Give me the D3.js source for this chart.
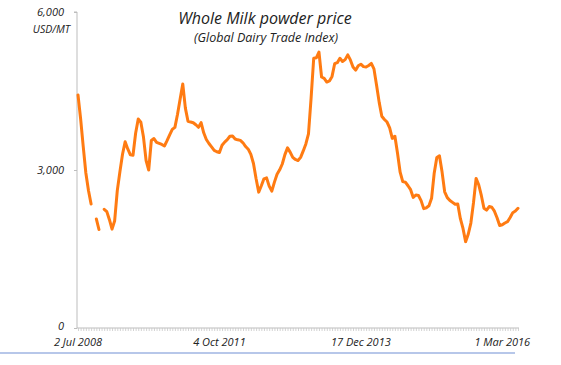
<!DOCTYPE html>
<html>
<head>
<meta charset="utf-8">
<script src="https://cdn.jsdelivr.net/npm/d3@7"></script>
<style>
  html, body { margin: 0; padding: 0; background: #fff; }
  svg { display: block; }
  text { font-family: "Open Sans", "DejaVu Sans", sans-serif; font-style: italic; fill: #222; }
</style>
</head>
<body>
<svg id="chart" width="561" height="365"></svg>
<script>
// ---- Data (USD/MT, Global Dairy Trade whole milk powder, one value per trading event) ----
const values = [
  4425, 3973, 3443, 2943, 2610, 2355, null, 2070, 1870, null,
  2254, 2210, 2056, 1877, 2037, 2609, 2968, 3300, 3537, 3400,
  3289, 3280, 3697, 3968, 3908, 3625, 3180, 3000, 3560, 3597,
  3525, 3505, 3485, 3456, 3557, 3667, 3770, 3810, 4060, 4350,
  4633, 4175, 3925, 3912, 3898, 3859, 3811, 3899, 3707, 3579,
  3503, 3439, 3372, 3347, 3332, 3470, 3530, 3575, 3641, 3647,
  3589, 3573, 3562, 3517, 3445, 3395, 3296, 3124, 2834, 2580,
  2700, 2833, 2850, 2694, 2600, 2770, 2918, 3003, 3114, 3292,
  3420, 3340, 3240, 3200, 3180, 3240, 3362, 3495, 3685, 4364,
  5122, 5130, 5240, 4766, 4741, 4670, 4691, 4777, 5018, 5038,
  5122, 5061, 5096, 5186, 5090, 4955, 4896, 4980, 5009, 4963,
  4955, 4984, 5023, 4920, 4610, 4284, 4020, 3959, 3911, 3800,
  3600, 3640, 3319, 2958, 2779, 2769, 2701, 2626, 2479, 2525,
  2515, 2419, 2266, 2282, 2320, 2463, 2938, 3239, 3270, 2965,
  2586, 2475, 2422, 2385, 2349, 2354, 2076, 1890, 1640, 1780,
  1993, 2375, 2840, 2720, 2517, 2274, 2238, 2306, 2292, 2218,
  2093, 1946, 1960, 1994, 2018, 2098, 2190, 2220, 2273
];
const categories = d3.range(values.length);           // trading events, in order
const xTickIndex  = [0, 54, 108, 162];
const xTickLabels = ["2 Jul 2008", "4 Oct 2011", "17 Dec 2013", "1 Mar 2016"];
const yTicks      = [0, 3000, 6000];
const yUnit       = "USD/MT";
const title       = "Whole Milk powder price";
const subtitle    = "(Global Dairy Trade Index)";

// ---- Layout ----
const svg = d3.select("#chart");
const mLeft = 77, mRight = 519, mTop = 12, mBottom = 328;

const x = d3.scalePoint().domain(categories).range([mLeft + 1, mRight - 1]);
const y = d3.scaleLinear().domain([0, 6000]).range([mBottom, mTop]);

// bottom separator line
svg.append("line")
  .attr("x1", 0).attr("x2", 515).attr("y1", 353).attr("y2", 353)
  .attr("stroke", "#9fb5e2").attr("stroke-width", 1.5);

// Y axis
const yAxis = svg.append("g").attr("transform", `translate(${mLeft},0)`)
  .call(d3.axisLeft(y).tickValues(yTicks).tickSize(3).tickPadding(10)
        .tickFormat(d3.format(",")));
yAxis.select(".domain").attr("stroke", "#bdbdbd").attr("d", `M-3,${y(6000)}H0V${mBottom}`);
yAxis.selectAll(".tick line").attr("stroke", "#bdbdbd");
yAxis.selectAll(".tick text").style("font-size", "11px").attr("fill", "#222")
  .attr("dy", d => d === 0 ? "0.1em" : "0.32em");

svg.append("text")
  .attr("x", 70).attr("y", 33).attr("text-anchor", "end")
  .style("font-size", "10.5px").text(yUnit);

// X axis with dense ticks (one per event)
const xAxis = svg.append("g").attr("transform", `translate(0,${mBottom})`)
  .call(d3.axisBottom(x).tickValues(categories).tickSize(3).tickFormat(""));
xAxis.select(".domain").attr("stroke", "#bdbdbd").attr("d", `M${mLeft},0H${mRight}`);
xAxis.selectAll(".tick line").attr("stroke", "#c8c8c8").attr("stroke-width", 0.8);

svg.append("g").selectAll("text")
  .data(xTickIndex)
  .join("text")
  .attr("x", d => x(categories[d]))
  .attr("y", 346)
  .attr("text-anchor", "middle")
  .style("font-size", "11px")
  .text((d, i) => xTickLabels[i]);

// Line
const line = d3.line()
  .defined(d => d != null)
  .x((d, i) => x(categories[i]))
  .y(d => y(d));

svg.append("path")
  .datum(values)
  .attr("fill", "none")
  .attr("stroke", "#ff7b12")
  .attr("stroke-width", 3)
  .attr("stroke-linejoin", "round")
  .attr("stroke-linecap", "round")
  .attr("d", line);

// Titles
svg.append("text").attr("x", 265).attr("y", 24).attr("text-anchor", "middle")
  .style("font-size", "16px").text(title);
svg.append("text").attr("x", 266).attr("y", 42).attr("text-anchor", "middle")
  .style("font-size", "12.5px").text(subtitle);
</script>
</body>
</html>
